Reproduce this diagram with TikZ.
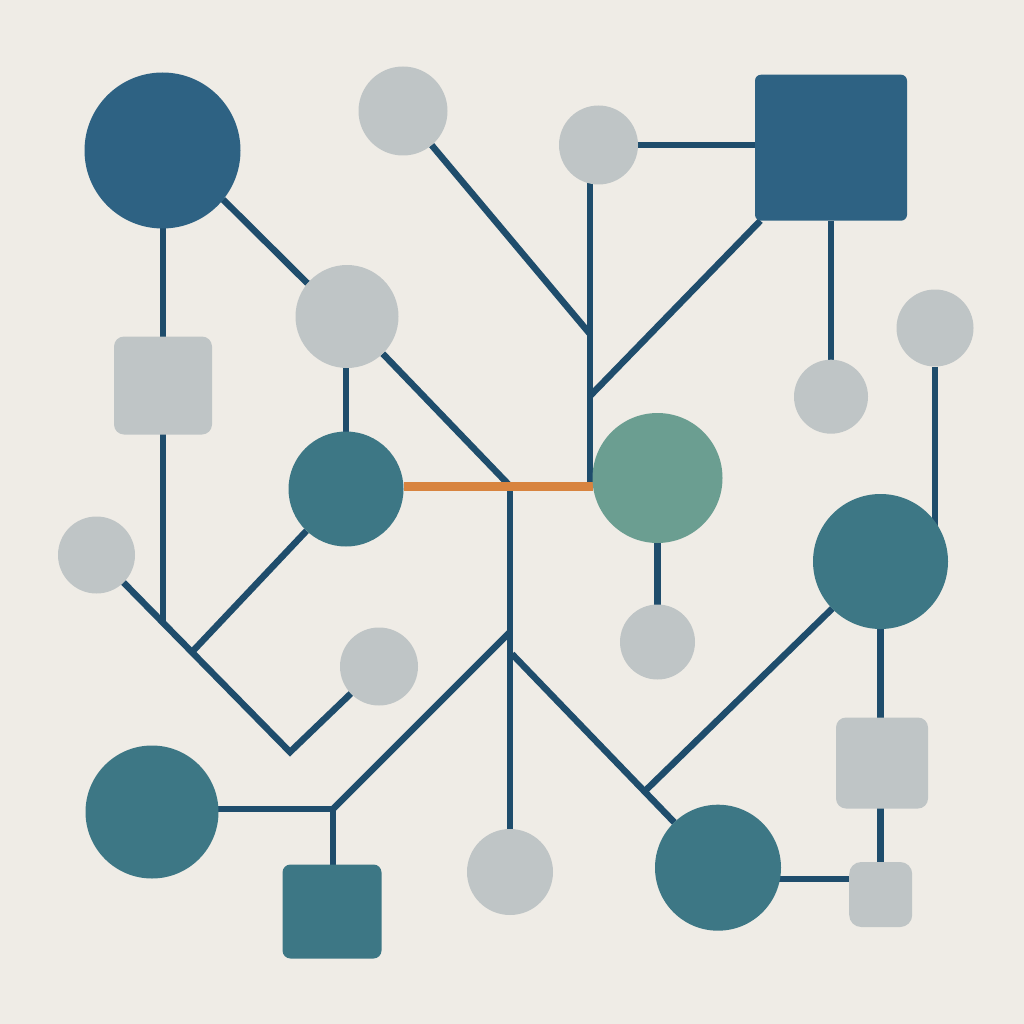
\documentclass[tikz,border=0pt]{standalone}
\definecolor{cbg}{HTML}{EFECE6}
\definecolor{cdark}{HTML}{2E6283}
\definecolor{cteal}{HTML}{3D7785}
\definecolor{cgreen}{HTML}{6B9E91}
\definecolor{cgray}{HTML}{BFC5C6}
\definecolor{corange}{HTML}{D8843F}
\definecolor{cline}{HTML}{1F4D6C}
\pgfdeclarelayer{bgfill}
\pgfdeclarelayer{edges}
\pgfsetlayers{bgfill,edges,main}
\begin{document}
\begin{tikzpicture}[x=1pt,y=-1pt,
  circ/.style={circle,inner sep=0pt,outer sep=0pt,draw=none},
  sq/.style={rectangle,inner sep=0pt,outer sep=0pt,draw=none},
  link/.style={draw=cline,line width=6.5pt,line join=miter},
  hot/.style={draw=corange,line width=9pt}]
\useasboundingbox (0,0) rectangle (1024,1024);
\begin{pgfonlayer}{bgfill}
  \fill[cbg] (0,0) rectangle (1024,1024);
\end{pgfonlayer}
% nodes
\node[circ,fill=cdark,minimum size=156pt] (A) at (162.5,150.5) {};
\node[circ,fill=cgray,minimum size=89pt] (B) at (403,111) {};
\node[circ,fill=cgray,minimum size=103pt] (C) at (347,316.5) {};
\node[sq,fill=cgray,minimum width=98pt,minimum height=98pt,rounded corners=10pt] (D) at (163,385.5) {};
\node[circ,fill=cteal,minimum size=115pt] (E) at (346,489) {};
\node[circ,fill=cgreen,minimum size=130pt] (F) at (657.5,478) {};
\node[circ,fill=cgray,minimum size=79pt] (G) at (598.5,145) {};
\node[sq,fill=cdark,minimum width=152pt,minimum height=146pt,rounded corners=6pt] (H) at (831,147.7) {};
\node[circ,fill=cgray,minimum size=74pt] (I) at (831,396.7) {};
\node[circ,fill=cgray,minimum size=77pt] (J) at (935,328) {};
\node[circ,fill=cteal,minimum size=135pt] (K) at (880.5,561.5) {};
\node[circ,fill=cgray,minimum size=75pt] (L) at (657.5,642) {};
\node[sq,fill=cgray,minimum width=92pt,minimum height=91pt,rounded corners=10pt] (M) at (882,763) {};
\node[sq,fill=cgray,minimum width=63pt,minimum height=65pt,rounded corners=12pt] (N) at (880.7,894.5) {};
\node[circ,fill=cteal,minimum size=126pt] (O) at (718,867.7) {};
\node[circ,fill=cgray,minimum size=86pt] (P) at (510,872) {};
\node[circ,fill=cteal,minimum size=133pt] (Q) at (152,812) {};
\node[sq,fill=cteal,minimum width=99pt,minimum height=94pt,rounded corners=8pt] (R) at (332,911.5) {};
\node[circ,fill=cgray,minimum size=77pt] (S) at (96.5,555) {};
\node[circ,fill=cgray,minimum size=78pt] (T) at (379,666.5) {};
% junction points
\coordinate (j1) at (163,622);
\coordinate (v1) at (290,752);
\coordinate (j3) at (192,652);
\coordinate (j4) at (510,486);
\coordinate (gj) at (590,486);
\coordinate (j5) at (590,334);
\coordinate (j6) at (590,396);
\coordinate (j7) at (333,809);
\coordinate (j8) at (510,632);
\coordinate (j9) at (512,654);
\coordinate (j10) at (646,790);
\coordinate (on) at (800,879);
\begin{pgfonlayer}{edges}
  \draw[link] (D.center |- A.center) -- (D.center);
  \draw[link] (D.center) -- (j1);
  \draw[link] (S) -- (v1) -- (T);
  \draw[link] (j3) -- (E);
  \draw[link] (A.-39) -- (C.140);
  \draw[link] (E.center |- C.center) -- (E.center);
  \draw[link] (C) -- (j4);
  \draw[link] (gj |- G.center) -- (gj);
  \draw[link] (G.east) -- (G.east -| H.west);
  \draw[link] (B) -- (j5);
  \draw[link] (H) -- (j6);
  \draw[link] (H) -- (I);
  \draw[link] (F) -- (L);
  \draw[link] (J) -- (J |- K.center);
  \draw[link] (K.center) -- (K.center |- M.center);
  \draw[link] (K.center |- M.center) -- (K.center |- N.center);
  \draw[link] (on -| O.center) -- (on -| N.center);
  \draw[link] (j4) -- (P);
  \draw[link] (Q.center |- j7) -- (j7);
  \draw[link] (j7) -- (j7 |- R.center);
  \draw[link] (j7) -- (j8);
  \draw[link] (j9) -- (O);
  \draw[link] (j10) -- (K);
  \draw[hot] (E.east |- j4) -- (F.west |- j4);
\end{pgfonlayer}
\end{tikzpicture}
\end{document}
